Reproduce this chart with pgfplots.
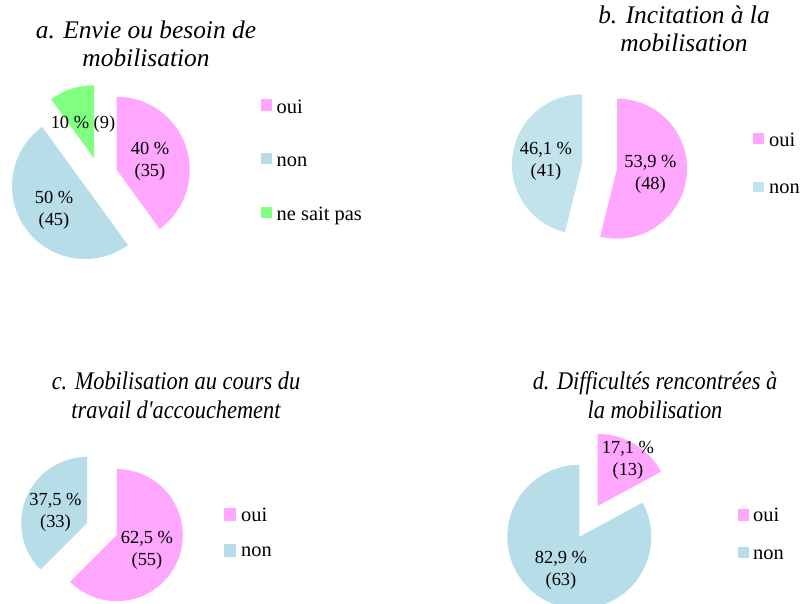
\documentclass[border=0pt]{standalone}
\usepackage{pgfplots}
\pgfplotsset{compat=1.18}
\usepackage{fontspec}
\setmainfont{Liberation Serif}
\newfontfamily\condfont[FakeStretch=0.88]{Liberation Serif}
\definecolor{ouic}{HTML}{FFA6FF}
\definecolor{nonc}{HTML}{B7DDE8}
\definecolor{nonb}{HTML}{C2E3EC}
\definecolor{nspc}{HTML}{80FF80}

% pie: centre x, centre y, radius, explosion, {percent/colour,...}
\newcommand{\pie}[5]{%
  \gdef\pcum{0}%
  \foreach \v/\c in {#5}{%
    \pgfmathsetmacro{\pa}{90-3.6*\pcum}%
    \pgfmathsetmacro{\pb}{90-3.6*(\pcum+\v)}%
    \pgfmathsetmacro{\pm}{(\pa+\pb)/2}%
    \pgfmathsetmacro{\px}{#1+#4*cos(\pm)}%
    \pgfmathsetmacro{\py}{#2+#4*sin(\pm)}%
    \edef\temp{\noexpand\fill[fill=\c] (axis cs:\px,\py) -- ++(\pa:#3bp) arc[start angle=\pa, end angle=\pb, radius=#3bp] -- cycle;}%
    \temp
    \pgfmathsetmacro{\pn}{\pcum+\v}%
    \global\let\pcum\pn
  }%
}

\begin{document}
\begin{tikzpicture}
\useasboundingbox (0,0) rectangle (803bp,604bp);
\begin{axis}[
  at={(0,0)}, anchor=south west,
  x=1bp, y=1bp,
  xmin=0, xmax=803, ymin=0, ymax=604,
  hide axis,
]
% a. Envie ou besoin de mobilisation: oui 40 (35), non 50 (45), ne sait pas 10 (9)
\pie{99.6}{428.6}{73}{18}{40/ouic,50/nonc,10/nspc}
% b. Incitation: oui 53.9 (48), non 46.1 (41)
\pie{599.5}{437.5}{70}{17.7}{53.9/ouic,46.1/nonb}
% c. Mobilisation au cours du travail: oui 62.5 (55), non 37.5 (33)
\pie{102}{75}{66}{16}{62.5/ouic,37.5/nonc}
% d. Difficultes: oui 17.1 (13), non 82.9 (63)
\pie{588.5}{82.6}{72}{18}{17.1/ouic,82.9/nonc}

% slice labels
\begin{scope}[every node/.style={align=center, font=\fontsize{18.5}{22}\selectfont, inner sep=0pt}]
\node at (axis cs:150,443) {40 \%\\(35)};
\node at (axis cs:54,394) {50 \%\\(45)};
\node at (axis cs:83,480) {10 \% (9)};
\node at (axis cs:546,443) {46,1 \%\\(41)};
\node at (axis cs:650.5,430) {53,9 \%\\(48)};
\node at (axis cs:55.5,92) {37,5 \%\\(33)};
\node at (axis cs:147,54) {62,5 \%\\(55)};
\node at (axis cs:628,144) {17,1 \%\\(13)};
\node at (axis cs:561,34) {82,9 \%\\(63)};
\end{scope}

% titles
\begin{scope}[every node/.style={align=center, inner sep=0pt}]
\node[font=\fontsize{25.5}{28}\selectfont\itshape] at (axis cs:146,560) {a. Envie ou besoin de\\mobilisation};
\node[font=\fontsize{25.5}{28}\selectfont\itshape] at (axis cs:684,575) {b. Incitation à la\\mobilisation};
\node[font=\condfont\fontsize{25.5}{29}\selectfont\itshape] at (axis cs:176,208.5) {c. Mobilisation au cours du\\travail d'accouchement};
\node[font=\condfont\fontsize{25.5}{29}\selectfont\itshape] at (axis cs:655,209) {d. Difficultés rencontrées à\\la mobilisation};
\end{scope}

% legends
\begin{scope}[every node/.style={anchor=base west, inner sep=0pt, font=\fontsize{20.5}{24}\selectfont}]
\fill[ouic] (axis cs:261,493.3) rectangle (axis cs:272,504.7);
\fill[nonc] (axis cs:261,439.7) rectangle (axis cs:272,450.7);
\fill[nspc] (axis cs:261,385.7) rectangle (axis cs:272,397.3);
\node at (axis cs:276.5,490.5) {oui};
\node at (axis cs:276.5,437) {non};
\node at (axis cs:276.5,384) {ne sait pas};
\fill[ouic] (axis cs:753,460) rectangle (axis cs:764,470.7);
\fill[nonb] (axis cs:753,411.7) rectangle (axis cs:764,422.3);
\node at (axis cs:769,457.3) {oui};
\node at (axis cs:769,410.7) {non};
\fill[ouic] (axis cs:224,83) rectangle (axis cs:236,95.7);
\fill[nonc] (axis cs:224,47.3) rectangle (axis cs:236,60);
\node at (axis cs:241,82.3) {oui};
\node at (axis cs:241,47.3) {non};
\fill[ouic] (axis cs:738,83.3) rectangle (axis cs:749,94.7);
\fill[nonc] (axis cs:738,45.7) rectangle (axis cs:749,57.3);
\node at (axis cs:753,82.3) {oui};
\node at (axis cs:753,44.7) {non};
\end{scope}
\end{axis}
\end{tikzpicture}
\end{document}
